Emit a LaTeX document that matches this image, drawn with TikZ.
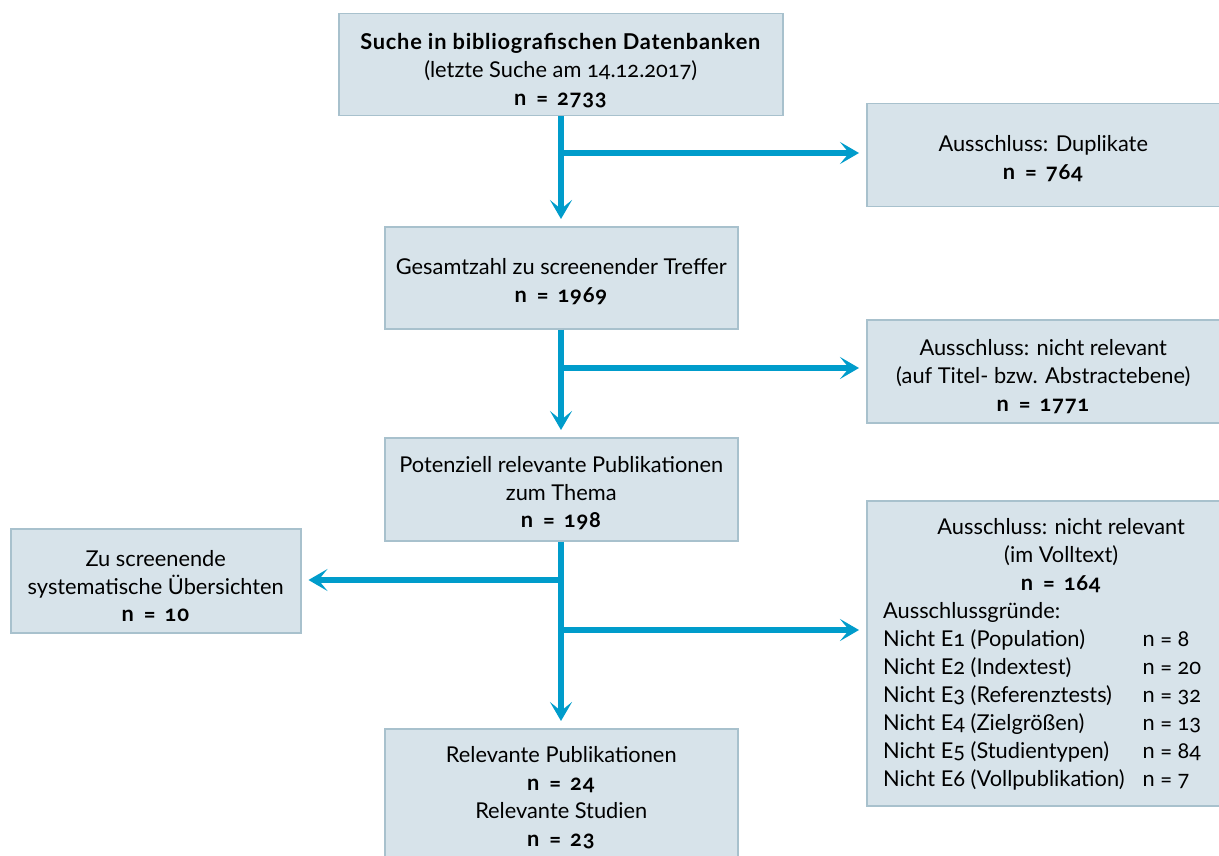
\documentclass[tikz,border=0pt]{standalone}
\usepackage{fontspec}
\setmainfont{Lato}[Numbers=OldStyle, BoldFeatures={LetterSpace=3.5}]
\usetikzlibrary{arrows.meta,calc}
\definecolor{boxfill}{HTML}{D7E3EA}
\definecolor{boxline}{HTML}{A8C1CD}
\definecolor{arrowblue}{HTML}{009CCB}
\newcommand\nval[1]{\textbf{n\hspace{10pt}=\hspace{9pt}#1}}
\newcommand\topgap[1]{\rule{0pt}{#1}}
\tikzset{
  box/.style={draw=boxline, fill=boxfill, line width=1.5pt, align=center, anchor=north west, inner sep=0pt,
    font=\fontsize{21.8}{27.8}\selectfont},
  arr/.style={draw=arrowblue, line width=5.5pt, -{Stealth[length=19pt,width=22pt,inset=9pt]}, shorten >=7pt}
}
\begin{document}
\begin{tikzpicture}[x=1pt,y=-1pt]
\useasboundingbox (0,0) rectangle (1219,856);
\clip (0,0) rectangle (1219,856);
\node[box, minimum width=444, minimum height=102] (b1) at (338,13)
  {\topgap{28pt}\textbf{Suche in bibliografischen Datenbanken}\\(letzte Suche am 14.12.2017)\\\nval{2733}};
\node[box, minimum width=353, minimum height=103] (b2) at (866,103)
  {\topgap{23pt}Ausschluss: Duplikate\\\nval{764}};
\node[box, minimum width=353, minimum height=102] (b3) at (384,226)
  {\topgap{24pt}Gesamtzahl zu screenender Treffer\\\nval{1969}};
\node[box, minimum width=353, minimum height=103] (b4) at (866,319)
  {\topgap{27pt}Ausschluss: nicht relevant\\(auf Titel- bzw. Abstractebene)\\\nval{1771}};
\node[box, minimum width=353, minimum height=103] (b5) at (384,437)
  {\topgap{24pt}Potenziell relevante Publikationen\\zum Thema\\\nval{198}};
\node[box, minimum width=290, minimum height=104] (b6) at (10,528)
  {\topgap{27pt}Zu screenende\\systematische Übersichten\\\nval{10}};
\node[box, minimum width=353, minimum height=305] (b7) at (866,500) {};
\node[anchor=north west, inner sep=0pt, font=\fontsize{21.8}{28}\selectfont] (t7) at ($(b7.north west)+(17,15)$)
  {\begin{tabular}{@{}l@{\hspace{18pt}}l@{}}
   \multicolumn{2}{c}{\hspace*{38pt}Ausschluss: nicht relevant}\\
   \multicolumn{2}{c}{\hspace*{38pt}(im Volltext)}\\
   \multicolumn{2}{c}{\hspace*{38pt}\nval{164}}\\
   Ausschlussgründe: & \\
   Nicht E1 (Population) & n = 8\\
   Nicht E2 (Indextest) & n = 20\\
   Nicht E3 (Referenztests) & n = 32\\
   Nicht E4 (Zielgrößen) & n = 13\\
   Nicht E5 (Studientypen) & n = 84\\
   Nicht E6 (Vollpublikation) & n = 7
  \end{tabular}};
\node[box, minimum width=353, minimum height=138] (b8) at (384,728)
  {Relevante Publikationen\\\nval{24}\\Relevante Studien\\\nval{23}};
% connectors
\coordinate (j1) at (561,153);
\coordinate (j2) at (561,368);
\coordinate (j3) at (561,580);
\coordinate (j4) at (561,630);
\draw[arr] (b1.south -| j1) -- (b3.north -| j1);
\draw[arr] (j1) -- (j1 -| b2.west);
\draw[arr] (b3.south -| j2) -- (b5.north -| j2);
\draw[arr] (j2) -- (j2 -| b4.west);
\draw[arr] (b5.south -| j3) -- (b8.north -| j3);
\draw[arr] (j3) -- (j3 -| b6.east);
\draw[arr] (j4) -- (j4 -| b7.west);
\end{tikzpicture}
\end{document}
